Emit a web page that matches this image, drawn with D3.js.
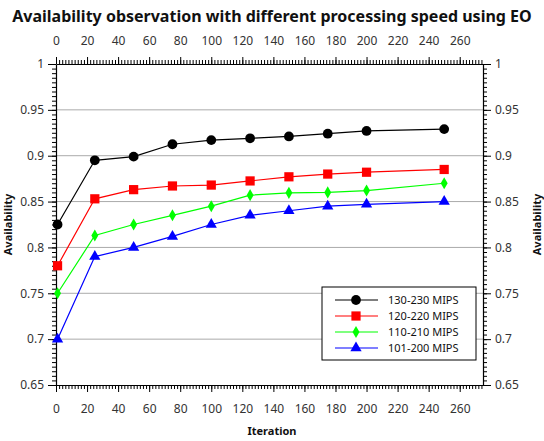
<!DOCTYPE html>
<html><head><meta charset="utf-8">
<script src="https://cdn.jsdelivr.net/npm/d3@7"></script>
<style>body{margin:0;background:#fff;} text{font-family:"Noto Sans",sans-serif;}</style>
</head><body><svg id="c" width="544" height="441"></svg>
<script>
const iterations = [1, 25, 50, 75, 100, 125, 150, 175, 200, 250];
const s130 = [0.825, 0.895, 0.899, 0.9125, 0.917, 0.919, 0.921, 0.924, 0.927, 0.929];
const s120 = [0.780, 0.853, 0.863, 0.867, 0.868, 0.8725, 0.877, 0.880, 0.882, 0.885];
const s110 = [0.750, 0.813, 0.825, 0.835, 0.845, 0.857, 0.8595, 0.860, 0.862, 0.870];
const s101 = [0.700, 0.790, 0.800, 0.812, 0.825, 0.835, 0.840, 0.845, 0.847, 0.850];
const seriesNames = ["130-230 MIPS", "120-220 MIPS", "110-210 MIPS", "101-200 MIPS"];
const xTicks = [0,20,40,60,80,100,120,140,160,180,200,220,240,260];
const yTicks = [0.65,0.7,0.75,0.8,0.85,0.9,0.95,1];

const series = [
  {name: seriesNames[0], vals: s130, color: "#000000", sym: d3.symbolCircle, size: 75},
  {name: seriesNames[1], vals: s120, color: "#ff0000", sym: d3.symbolSquare, size: 85},
  {name: seriesNames[2], vals: s110, color: "#00ff00", sym: d3.symbolDiamond, size: 42},
  {name: seriesNames[3], vals: s101, color: "#0000ff", sym: d3.symbolTriangle, size: 55}
];

const svg = d3.select("#c");
const L = 56, R = 483, T = 64, B = 385;
const x = d3.scaleLinear().domain([0, 275]).range([L, R]);
const y = d3.scaleLinear().domain([0.65, 1]).range([B, T]);

// grid
svg.append("g").selectAll("line").data(yTicks.slice(1, -1)).join("line")
  .attr("x1", L).attr("x2", R).attr("y1", d => y(d)).attr("y2", d => y(d))
  .attr("stroke", "#aaaaaa").attr("stroke-width", 1);

const xMinor = d3.range(0, 276, 2);
const yMinor = d3.range(0.65, 1.0001, 0.005);

function styleAxis(g) {
  g.select(".domain").attr("stroke", "#000").attr("stroke-width", 1.2);
  g.selectAll(".tick line").attr("stroke", "#000");
  g.selectAll(".tick text").attr("fill", "#333").style("font-size", "12px").style("font-family", "Noto Sans, sans-serif");
}
function minorAxis(g) {
  g.select(".domain").remove();
  g.selectAll(".tick text").remove();
  g.selectAll(".tick line").attr("stroke", "#000");
}

// bottom
svg.append("g").attr("transform", `translate(0,${B})`)
  .call(d3.axisBottom(x).tickValues(xMinor).tickSize(4).tickSizeOuter(0)).call(minorAxis);
svg.append("g").attr("transform", `translate(0,${B})`)
  .call(d3.axisBottom(x).tickValues(xTicks).tickSize(7).tickPadding(12).tickSizeOuter(0)).call(styleAxis);
// top
svg.append("g").attr("transform", `translate(0,${T})`)
  .call(d3.axisTop(x).tickValues(xMinor).tickSize(4).tickSizeOuter(0)).call(minorAxis);
svg.append("g").attr("transform", `translate(0,${T})`)
  .call(d3.axisTop(x).tickValues(xTicks).tickSize(7).tickPadding(12).tickSizeOuter(0)).call(styleAxis);
// left
svg.append("g").attr("transform", `translate(${L},0)`)
  .call(d3.axisLeft(y).tickValues(yMinor).tickSize(4).tickSizeOuter(0)).call(minorAxis);
svg.append("g").attr("transform", `translate(${L},0)`)
  .call(d3.axisLeft(y).tickValues(yTicks).tickSize(8).tickPadding(4).tickFormat(d3.format("~g")).tickSizeOuter(0)).call(styleAxis);
// right
svg.append("g").attr("transform", `translate(${R},0)`)
  .call(d3.axisRight(y).tickValues(yMinor).tickSize(4).tickSizeOuter(0)).call(minorAxis);
svg.append("g").attr("transform", `translate(${R},0)`)
  .call(d3.axisRight(y).tickValues(yTicks).tickSize(8).tickPadding(4).tickFormat(d3.format("~g")).tickSizeOuter(0)).call(styleAxis);

// lines
const line = d3.line().x((d, i) => x(iterations[i])).y(d => y(d));
series.forEach(s => {
  svg.append("path").datum(s.vals).attr("d", line).attr("fill", "none")
    .attr("stroke", s.color).attr("stroke-width", 1.2);
  svg.append("g").selectAll("path").data(s.vals).join("path")
    .attr("transform", (d, i) => `translate(${x(iterations[i])},${y(d)})`)
    .attr("d", d3.symbol().type(s.sym).size(s.size)).attr("fill", s.color);
});

// legend
const lg = svg.append("g");
lg.append("rect").attr("x", 322).attr("y", 287).attr("width", 154).attr("height", 73)
  .attr("fill", "#fff").attr("stroke", "#000").attr("stroke-width", 1);
series.forEach((s, i) => {
  const yy = 300 + i * 16;
  lg.append("line").attr("x1", 335).attr("x2", 378).attr("y1", yy).attr("y2", yy)
    .attr("stroke", s.color).attr("stroke-width", 1.2);
  lg.append("path").attr("transform", `translate(356,${yy})`)
    .attr("d", d3.symbol().type(s.sym).size(s.size)).attr("fill", s.color);
  lg.append("text").attr("x", 388).attr("y", yy + 4).text(s.name)
    .style("font-size", "11px").attr("fill", "#111");
});

// title & labels
svg.append("text").attr("x", 272).attr("y", 22).attr("text-anchor", "middle")
  .style("font-size", "16px").style("font-weight", "bold").attr("fill", "#111")
  .text("Availability observation with different processing speed using EO");
svg.append("text").attr("x", 272).attr("y", 435).attr("text-anchor", "middle")
  .style("font-size", "11px").style("font-weight", "bold").attr("fill", "#111").text("Iteration");
svg.append("text").attr("transform", `translate(12,${(T + B) / 2}) rotate(-90)`).attr("text-anchor", "middle")
  .style("font-size", "11px").style("font-weight", "bold").attr("fill", "#111").text("Availability");
svg.append("text").attr("transform", `translate(541,${(T + B) / 2}) rotate(-90)`).attr("text-anchor", "middle")
  .style("font-size", "11px").style("font-weight", "bold").attr("fill", "#111").text("Availability");
</script></body></html>
